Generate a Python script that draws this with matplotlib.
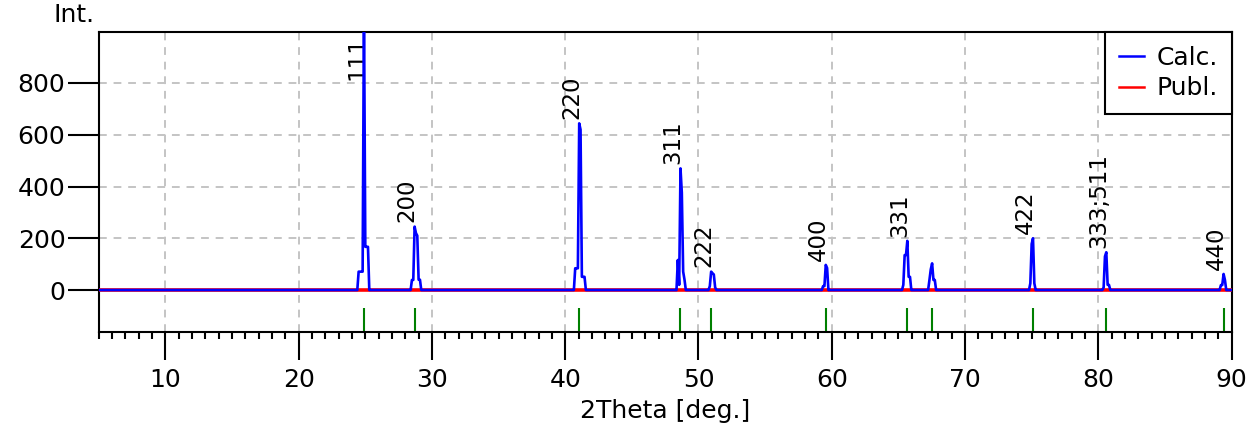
import numpy as np
import matplotlib.pyplot as plt
from matplotlib.ticker import MultipleLocator

# reflection positions (2Theta, deg.) and hkl labels
peak_pos = [24.90, 28.70, 41.05, 48.65, 50.95, 59.55, 65.67, 67.53, 75.10, 80.60, 89.40]
hkl_labels = ['111', '200', '220', '311', '222', '400', '331', '', '422', '333;511', '440']

# calculated profile around each reflection, sampled at these offsets (deg.)
profile_offsets = [-0.5, -0.4, -0.3, -0.2, -0.1, 0.0, 0.1, 0.2, 0.3, 0.4, 0.5]
prof_111 = [0, 71, 71, 71, 71, 1100, 167, 167, 167, 0, 0]
prof_200 = [0, 0, 0, 39, 39, 245, 220, 210, 40, 40, 0]
prof_220 = [0, 0, 84, 84, 84, 644, 620, 51, 51, 51, 0]
prof_311 = [0, 0, 0, 116, 20, 470, 376, 71, 40, 0, 0]
prof_222 = [0, 0, 0, 0, 15, 71, 65, 60, 10, 0, 0]
prof_400 = [0, 0, 0, 15, 15, 97, 85, 0, 0, 0, 0]
prof_331 = [0, 0, 20, 135, 135, 190, 51, 51, 0, 0, 0]
prof_420 = [0, 0, 0, 39, 80, 103, 39, 39, 0, 0, 0]
prof_422 = [0, 0, 0, 26, 178, 200, 26, 0, 0, 0, 0]
prof_333 = [0, 0, 0, 10, 130, 146, 20, 20, 0, 0, 0]
prof_440 = [0, 0, 0, 19, 19, 62, 39, 0, 0, 0, 0]
calc_profiles = [prof_111, prof_200, prof_220, prof_311, prof_222, prof_400,
                 prof_331, prof_420, prof_422, prof_333, prof_440]

# published intensities (flat at this scale)
publ_int = [0, 0, 0, 0, 0, 0, 0, 0, 0, 0, 0]

x_min, x_max = 5, 90
y_min, y_max = -161, 996

# build the calculated pattern
calc_x = [x_min]
calc_y = [0]
for pos, prof in zip(peak_pos, calc_profiles):
    calc_x += [pos + o for o in profile_offsets]
    calc_y += prof
calc_x.append(x_max)
calc_y.append(0)

publ_x = [x_min] + peak_pos + [x_max]
publ_y = [0] + publ_int + [0]

plt.rcParams['font.family'] = 'DejaVu Sans'

fig = plt.figure(figsize=(12.58, 4.32), dpi=100)
ax = fig.add_axes([0.0785, 0.2322, 0.9005, 0.6931])

ax.grid(True, which='major', color='#c4c4c4', linestyle=(0, (4, 3.5)), linewidth=1.4, zorder=0)
ax.set_axisbelow(True)

ax.vlines(peak_pos, y_min, -70, color='#008000', linewidth=1.5, zorder=2)
ax.plot(publ_x, publ_y, color='red', linewidth=2.6, label='Publ.', zorder=3)
ax.plot(calc_x, calc_y, color='blue', linewidth=1.9, label='Calc.', zorder=4)

for pos, prof, lab in zip(peak_pos, calc_profiles, hkl_labels):
    if not lab:
        continue
    top = max(prof)
    if top > y_max:
        ax.annotate(lab, (pos, y_max), xytext=(3, -3), textcoords='offset points',
                    rotation=90, ha='right', va='top', fontsize=16.5)
    else:
        ax.annotate(lab, (pos, top), xytext=(3, 3), textcoords='offset points',
                    rotation=90, ha='right', va='bottom', fontsize=16.5)

ax.set_xlim(x_min, x_max)
ax.set_ylim(y_min, y_max)
ax.set_xticks(range(10, 91, 10))
ax.xaxis.set_minor_locator(MultipleLocator(1))
ax.set_yticks([0, 200, 400, 600, 800])

ax.tick_params(axis='x', which='major', direction='out', length=20, width=1.5, labelsize=18, pad=6)
ax.tick_params(axis='x', which='minor', direction='out', length=5, width=1.5)
ax.tick_params(axis='y', which='major', direction='out', length=22, width=1.5, labelsize=18, pad=2)
for s in ax.spines.values():
    s.set_linewidth(1.5)

ax.set_xlabel('2Theta [deg.]', fontsize=18, labelpad=5)
ax.annotate('Int.', (0, 1), xycoords='axes fraction', xytext=(-3, 4),
            textcoords='offset points', ha='right', va='bottom', fontsize=18)

handles, labels = ax.get_legend_handles_labels()
leg = ax.legend(handles[::-1], labels[::-1], loc='upper right', borderaxespad=0,
                fancybox=False, framealpha=1, edgecolor='black', fontsize=18,
                handlelength=1.0, handletextpad=0.5, labelspacing=0.25, borderpad=0.55)
leg.get_frame().set_linewidth(1.5)
for h in leg.get_lines():
    h.set_linewidth(1.8)

fig.savefig('out.png', dpi=100)
